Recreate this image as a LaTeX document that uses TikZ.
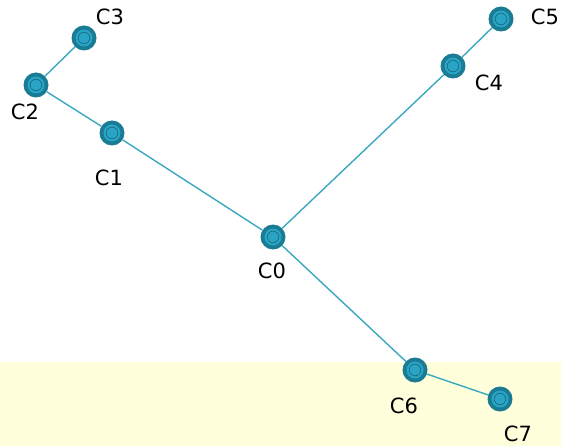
\documentclass[tikz,border=0pt]{standalone}
\usepackage{fontspec}
\setmainfont{DejaVu Sans}
\definecolor{nodeout}{HTML}{1A7C94}
\definecolor{nodein}{HTML}{2AA4C4}
\definecolor{edgecol}{HTML}{3AA8C0}
\definecolor{band}{HTML}{FFFFDC}
\tikzset{
  cnode/.style={circle, fill=nodeout, minimum size=25pt, inner sep=0pt,
    path picture={
      \fill[nodein] (path picture bounding box.center) circle (8.5pt);
      \draw[nodeout!85!black, line width=0.6pt] (path picture bounding box.center) circle (5.8pt);
    }},
  lbl/.style={font=\fontsize{21}{24}\selectfont, text=black, inner sep=0pt},
  edge/.style={draw=edgecol, line width=1.4pt}
}
\begin{document}
\begin{tikzpicture}[x=1pt,y=-1pt]
\useasboundingbox (0,0) rectangle (561,446);
\fill[white] (0,0) rectangle (561,446);
\fill[band] (0,362) rectangle (561,446);
\node[cnode] (c0) at (273,237) {};
\node[cnode] (c1) at (112,133) {};
\node[cnode] (c2) at (36,85) {};
\node[cnode] (c3) at (84,38) {};
\node[cnode] (c4) at (453,66) {};
\node[cnode] (c5) at (501,19) {};
\node[cnode] (c6) at (415,370) {};
\node[cnode] (c7) at (500,399) {};
\path[edge] (c0) -- (c1);
\path[edge] (c1) -- (c2);
\path[edge] (c2) -- (c3);
\path[edge] (c0) -- (c4);
\path[edge] (c4) -- (c5);
\path[edge] (c0) -- (c6);
\path[edge] (c6) -- (c7);
\node[lbl] (l0) at (272,271) {C0};
\node[lbl] (l1) at (109,178) {C1};
\node[lbl] (l2) at (25,112) {C2};
\node[lbl] (l3) at (110,17) {C3};
\node[lbl] (l4) at (489,83) {C4};
\node[lbl] (l5) at (545,17) {C5};
\node[lbl] (l6) at (404,406) {C6};
\node[lbl] (l7) at (518,434) {C7};
\end{tikzpicture}
\end{document}
